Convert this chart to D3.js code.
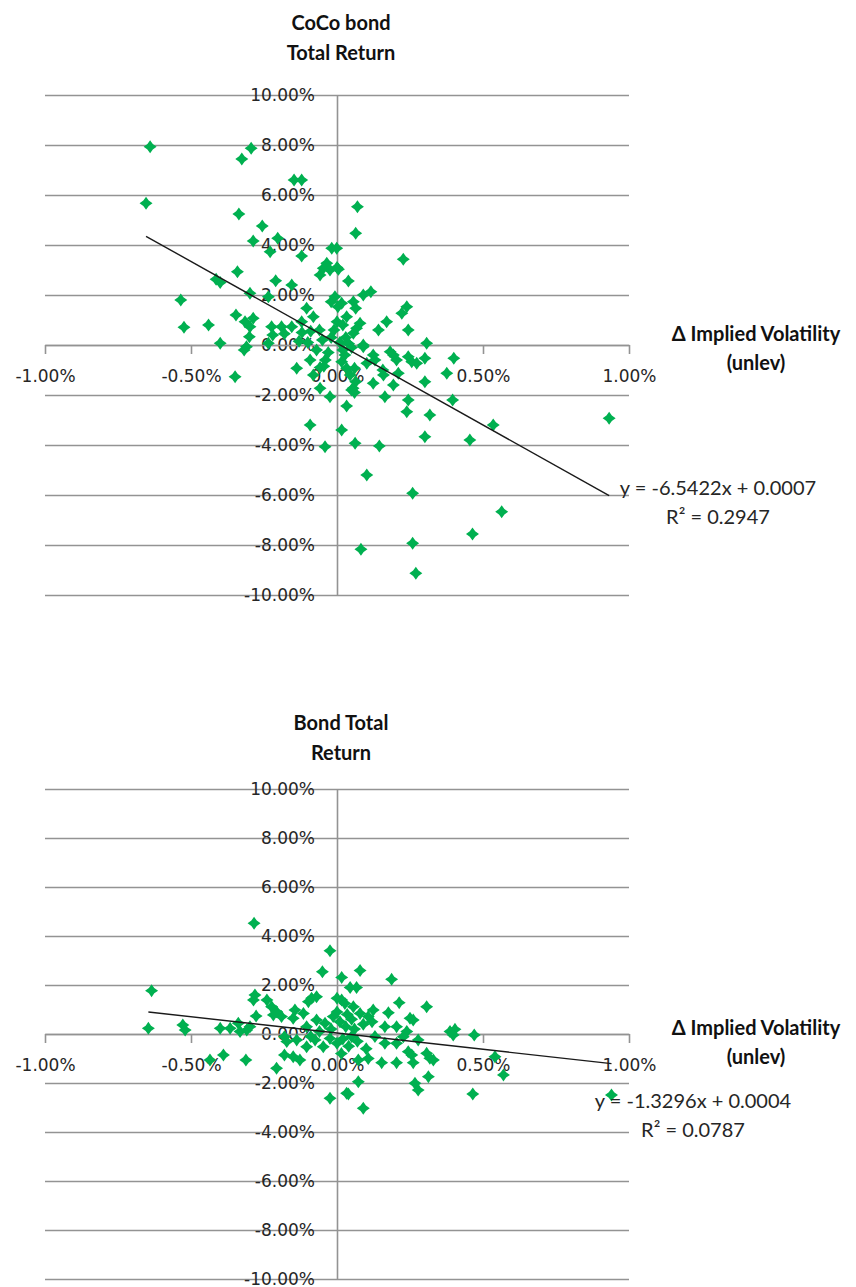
<!DOCTYPE html>
<html>
<head>
<meta charset="utf-8">
<script src="https://cdn.jsdelivr.net/npm/d3@7"></script>
<style>
  html, body { margin: 0; padding: 0; background: #fff; }
  svg { display: block; }
</style>
</head>
<body>
<svg id="chart" width="856" height="1287"></svg>
<script>
// ---------------- DATA ----------------
const xTicks = [-1, -0.5, 0, 0.5, 1];           // Δ implied volatility, %
const yTicks = [-10, -8, -6, -4, -2, 0, 2, 4, 6, 8, 10]; // total return, %

const cocoTitle = ["CoCo bond", "Total Return"];
const bondTitle = ["Bond Total", "Return"];
const xTitle = ["Δ Implied Volatility", "(unlev)"];

// CoCo bond panel (x = Δ implied vol %, y = total return %)
const cocoX = [-0.640,-0.654,-0.535,-0.524,-0.440,-0.400,-0.414,-0.400,-0.341,-0.336,-0.326,-0.294,-0.256,-0.287,-0.203,-0.229,-0.147,-0.121,-0.121,-0.018,
  -0.210,-0.155,-0.298,-0.235,-0.104,-0.346,-0.315,-0.287,-0.298,-0.224,-0.190,-0.155,-0.121,-0.081,-0.300,-0.220,-0.180,-0.120,-0.090,-0.235,
  -0.310,-0.318,-0.349,-0.138,-0.092,-0.040,-0.045,-0.058,-0.081,-0.024,-0.058,-0.092,-0.041,-0.035,-0.047,-0.058,-0.024,0.000,-0.020,-0.007,
  0.003,0.070,0.064,0.227,-0.001,0.005,0.039,0.090,0.116,0.016,0.056,0.064,0.239,0.222,0.033,0.079,0.067,0.056,0.170,0.142,
  0.244,0.000,0.307,0.400,0.244,0.256,0.273,0.301,0.182,0.193,0.204,0.376,0.301,0.210,0.193,0.124,0.159,0.164,0.244,0.239,
  0.318,0.396,0.535,0.932,0.301,0.455,0.016,0.062,0.145,0.033,0.102,0.259,0.564,0.464,0.259,0.082,0.270,0.060,0.050,0.090,
  0.124,0.157,0.027,0.016,0.033,0.045,0.060,0.064,0.055,0.130,0.102,0.090,-0.020,0.010,-0.050,0.030,-0.070,0.020,-0.030,0.040,
  -0.010,0.020,-0.060,0.050,-0.100,-0.130];
const cocoY = [7.93,5.67,1.80,0.71,0.80,0.07,2.63,2.50,2.93,5.24,7.44,7.87,4.76,4.16,4.27,3.73,6.60,6.60,3.56,3.87,
  2.57,2.40,2.07,1.93,1.47,1.20,0.93,1.07,0.73,0.73,0.73,0.73,0.93,1.13,0.33,0.40,0.45,0.50,0.55,0.07,
  -0.07,-0.20,-1.27,-0.93,-0.60,-0.60,-0.85,-0.90,-1.20,-2.07,-1.73,-3.20,-4.07,3.27,3.07,2.80,3.00,3.10,1.73,1.93,
  1.53,5.53,4.47,3.43,3.87,3.03,2.56,2.00,2.13,1.67,1.73,1.47,1.53,1.27,1.13,0.87,0.67,0.47,0.93,0.60,
  0.60,0.93,0.07,-0.53,-0.47,-0.67,-0.73,-0.53,-0.27,-0.40,-0.60,-1.13,-1.47,-1.13,-1.60,-1.53,-1.20,-2.07,-2.20,-2.67,
  -2.80,-2.20,-3.20,-2.93,-3.67,-3.80,-3.40,-3.93,-4.04,-2.44,-5.20,-5.93,-6.67,-7.56,-7.93,-8.17,-9.13,-1.90,-1.80,-0.07,
  -0.40,-1.00,-0.40,-0.67,-0.93,-1.20,-0.93,-1.47,-1.73,-0.60,-0.73,0.00,0.30,0.10,0.20,0.30,-0.20,-0.20,-0.30,0.05,
  0.60,0.80,0.60,-0.10,0.10,0.15];
const cocoSlope = -6.5422, cocoIntercept = 0.0007, cocoR2 = 0.2947;

// Plain bond panel
const bondX = [-0.284,-0.024,-0.050,0.016,-0.635,-0.646,-0.528,-0.520,-0.400,-0.366,-0.338,-0.332,-0.309,-0.298,-0.435,-0.389,-0.312,-0.281,-0.286,-0.277,
  -0.240,-0.224,-0.207,-0.190,-0.218,-0.180,-0.172,-0.138,-0.180,-0.150,-0.127,-0.207,-0.144,-0.115,-0.150,-0.098,-0.087,-0.070,-0.104,-0.070,
  -0.041,-0.013,0.000,-0.075,-0.047,-0.024,0.000,-0.104,-0.024,0.033,0.079,0.187,0.045,0.067,0.213,0.307,0.176,0.250,0.261,0.164,
  0.204,0.387,0.404,0.398,0.470,0.239,0.227,0.278,0.164,0.204,0.244,0.256,0.307,0.318,0.330,0.153,0.204,0.261,0.107,0.073,
  0.541,0.570,0.313,0.267,0.278,0.073,0.465,0.039,0.090,0.940,0.016,0.027,0.056,0.079,0.107,0.124,0.010,0.030,0.050,0.060,
  0.090,0.120,0.020,0.040,0.070,0.100,0.130,-0.020,-0.060,-0.090,0.000,0.035,0.015,0.050];
const bondY = [4.52,3.40,2.54,2.31,1.77,0.23,0.37,0.16,0.23,0.23,0.44,0.10,0.16,0.30,-1.06,-0.86,-1.06,1.59,1.39,0.73,
  1.39,1.11,0.91,0.71,0.78,-0.11,-0.31,-0.24,-0.86,-0.93,-1.06,-1.40,0.98,0.84,0.64,1.32,1.46,1.52,0.30,0.57,
  0.44,0.71,1.46,-0.24,-0.52,-0.18,-0.38,-0.52,-2.62,-2.42,2.59,2.23,1.90,1.90,1.28,1.11,0.87,0.64,0.57,0.30,
  0.30,0.10,0.19,-0.04,-0.04,0.10,-0.11,-0.24,-0.38,-0.38,-0.72,-0.86,-0.79,-0.99,-1.06,-1.17,-1.17,-1.17,-1.00,-1.06,
  -0.93,-1.67,-1.74,-2.01,-2.29,-1.95,-2.45,-2.45,-3.03,-2.49,1.39,1.25,1.11,0.84,0.71,0.98,0.50,0.30,0.60,0.20,
  0.40,0.50,-0.20,-0.50,-0.30,-0.60,-0.10,0.20,0.10,-0.10,0.90,0.80,-0.80,-0.10];
const bondSlope = -1.3296, bondIntercept = 0.0004, bondR2 = 0.0787;

// ---------------- DRAW ----------------
const svg = d3.select("#chart");
svg.append("rect").attr("width", 856).attr("height", 1287).attr("fill", "#fff");

const fmt = v => v.toFixed(2) + "%";
const gridColor = "#939393";
const markerColor = "#00B050";
const tickFont = "'DejaVu Sans', Verdana, sans-serif";
const titleFont = "Lato, 'Open Sans', sans-serif";

const starPath = (() => {
  const r = 6.5, k = 2.7;
  return `M0,${-r}L${k},${-k}L${r},0L${k},${k}L0,${r}L${-k},${k}L${-r},0L${-k},${-k}Z`;
})();

function panel(cfg) {
  const x = d3.scaleLinear().domain([-1, 1]).range([45, 629]);
  const y = d3.scaleLinear().domain([-10, 10]).range([cfg.bottom, cfg.top]);
  const g = svg.append("g");

  // horizontal gridlines
  const grid = g.append("g").attr("transform", `translate(${x(-1)},0)`)
    .call(d3.axisLeft(y).tickValues(yTicks).tickSize(-(x(1) - x(-1))).tickFormat(""));
  grid.select(".domain").remove();
  grid.selectAll(".tick line").attr("stroke", gridColor).attr("stroke-width", 1.6);

  // vertical value axis with labels
  const ya = g.append("g").attr("transform", `translate(${x(0)},0)`)
    .call(d3.axisLeft(y).tickValues(yTicks).tickSize(0).tickSizeOuter(0).tickPadding(22).tickFormat(fmt));
  ya.select(".domain").attr("stroke", gridColor).attr("stroke-width", 1.6);
  ya.selectAll("text").attr("font-family", tickFont).attr("font-size", 17).attr("fill", "#262626");

  // horizontal category axis at y = 0
  const xa = g.append("g").attr("transform", `translate(0,${y(0)})`)
    .call(d3.axisBottom(x).tickValues(xTicks).tickSize(9).tickSizeOuter(0).tickPadding(16).tickFormat(fmt));
  xa.select(".domain").attr("stroke", gridColor).attr("stroke-width", 1.6);
  xa.selectAll(".tick line").attr("stroke", gridColor).attr("stroke-width", 1.6);
  xa.selectAll("text").attr("font-family", tickFont).attr("font-size", 17).attr("fill", "#262626");

  // points
  g.append("g").selectAll("path").data(cfg.xs.map((v, i) => [v, cfg.ys[i]]))
    .join("path")
    .attr("d", starPath)
    .attr("transform", d => `translate(${x(d[0])},${y(d[1])})`)
    .attr("fill", markerColor);

  // linear trendline (equation in fraction units -> percent)
  const x0 = d3.min(cfg.xs), x1 = d3.max(cfg.xs);
  const f = v => cfg.slope * v + cfg.intercept * 100;
  g.append("line")
    .attr("x1", x(x0)).attr("y1", y(f(x0)))
    .attr("x2", x(x1)).attr("y2", y(f(x1)))
    .attr("stroke", "#1a1a1a").attr("stroke-width", 1.4);

  // chart title
  cfg.title.forEach((t, i) => {
    g.append("text").attr("x", 341).attr("y", cfg.titleY + i * 30)
      .attr("text-anchor", "middle").attr("dominant-baseline", "central")
      .attr("font-family", titleFont).attr("font-weight", "bold").attr("font-size", 20)
      .attr("fill", "#111").text(t);
  });

  // axis title
  xTitle.forEach((t, i) => {
    g.append("text").attr("x", 756).attr("y", cfg.axisTitleY + i * 29)
      .attr("text-anchor", "middle").attr("dominant-baseline", "central")
      .attr("font-family", titleFont).attr("font-weight", "bold").attr("font-size", 20)
      .attr("fill", "#111").text(t);
  });

  // trendline label
  const sign = cfg.intercept >= 0 ? "+" : "-";
  g.append("text").attr("x", cfg.eqX).attr("y", cfg.eqY)
    .attr("text-anchor", "middle").attr("dominant-baseline", "central")
    .attr("font-family", titleFont).attr("font-size", 20).attr("fill", "#262626")
    .text(`y = ${cfg.slope.toFixed(4)}x ${sign} ${Math.abs(cfg.intercept).toFixed(4)}`);
  g.append("text").attr("x", cfg.eqX).attr("y", cfg.eqY + 29)
    .attr("text-anchor", "middle").attr("dominant-baseline", "central")
    .attr("font-family", titleFont).attr("font-size", 20).attr("fill", "#262626")
    .text(`R² = ${cfg.r2.toFixed(4)}`);
}

panel({ top: 95, bottom: 595, xs: cocoX, ys: cocoY, slope: cocoSlope, intercept: cocoIntercept, r2: cocoR2,
        title: cocoTitle, titleY: 22, axisTitleY: 333, eqX: 718, eqY: 487 });
panel({ top: 789, bottom: 1279, xs: bondX, ys: bondY, slope: bondSlope, intercept: bondIntercept, r2: bondR2,
        title: bondTitle, titleY: 722, axisTitleY: 1027, eqX: 693, eqY: 1100 });
</script>
</body>
</html>
